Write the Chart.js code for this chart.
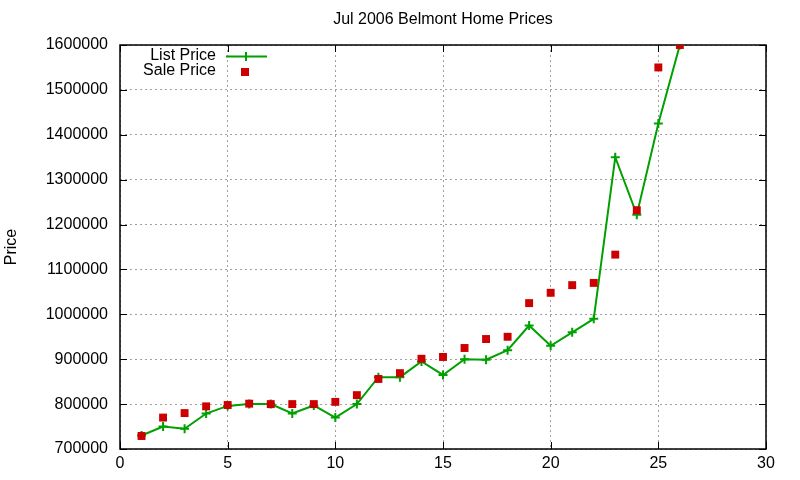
<!DOCTYPE html>
<html>
<head>
<meta charset="utf-8">
<script src="https://cdn.jsdelivr.net/npm/chart.js@4"></script>
<style>
html,body{margin:0;padding:0;background:#fff;}
#wrap{width:800px;height:480px;}
</style>
</head>
<body>
<div id="wrap"><canvas id="c" width="800" height="480"></canvas></div>
<script>
const houses = [1,2,3,4,5,6,7,8,9,10,11,12,13,14,15,16,17,18,19,20,21,22,23,24,25,26];
const listPrice = [730000,750000,745000,779000,796000,800000,800000,779000,797000,770000,800000,860000,860000,895000,865000,900000,899000,920000,975000,930000,960000,990000,1350000,1222000,1425000,1600000];
const salePrice = [729000,770000,780000,795000,798000,801000,800000,800000,800000,805000,820000,856000,869000,901000,905000,925000,945000,950000,1025000,1048000,1065000,1070000,1133000,1232000,1550000,1600000];
const titleText = 'Jul 2006 Belmont Home Prices';
const yTitle = 'Price';
const legendLabels = ['List Price','Sale Price'];

const GREEN = '#00a000';
const RED = '#cc0000';
const FONT = '"Liberation Sans", Arial, sans-serif';

const listPts = houses.map((h,i)=>({x:h,y:listPrice[i]}));
const salePts = houses.map((h,i)=>({x:h,y:salePrice[i]}));

const framePlugin = {
  id:'frame',
  beforeDatasetsDraw(chart){
    const ctx = chart.ctx, a = chart.chartArea;
    const xs = chart.scales.x, ys = chart.scales.y;
    ctx.save();
    ctx.strokeStyle = '#000';
    ctx.lineWidth = 1.5;
    ctx.setLineDash([]);
    ctx.strokeRect(a.left, a.top, a.right-a.left, a.bottom-a.top);
    ctx.lineWidth = 1;
    const tl = 7;
    ctx.beginPath();
    xs.ticks.forEach(t=>{
      const px = Math.round(xs.getPixelForValue(t.value))+0.5;
      ctx.moveTo(px,a.bottom); ctx.lineTo(px,a.bottom-tl);
      ctx.moveTo(px,a.top); ctx.lineTo(px,a.top+tl);
    });
    ys.ticks.forEach(t=>{
      const py = Math.round(ys.getPixelForValue(t.value))+0.5;
      ctx.moveTo(a.left,py); ctx.lineTo(a.left+tl,py);
      ctx.moveTo(a.right,py); ctx.lineTo(a.right-tl,py);
    });
    ctx.stroke();
    ctx.restore();
  },
  afterDraw(chart){
    const ctx = chart.ctx, a = chart.chartArea;
    ctx.save();
    ctx.fillStyle = '#000';
    ctx.font = '16px ' + FONT;
    ctx.textAlign = 'center';
    ctx.textBaseline = 'middle';
    ctx.fillText(titleText, (a.left+a.right)/2, 20);
    ctx.save();
    ctx.translate(12, (a.top+a.bottom)/2);
    ctx.rotate(-Math.PI/2);
    ctx.fillText(yTitle, 0, 0);
    ctx.restore();
    // legend
    ctx.textAlign = 'right';
    ctx.fillText(legendLabels[0], 216, 56);
    ctx.fillText(legendLabels[1], 216, 71);
    ctx.strokeStyle = GREEN;
    ctx.lineWidth = 2;
    ctx.beginPath();
    ctx.moveTo(226,56.5); ctx.lineTo(267,56.5);
    ctx.moveTo(246,52); ctx.lineTo(246,61);
    ctx.stroke();
    ctx.fillStyle = RED;
    ctx.fillRect(241,68,8,8);
    ctx.restore();
  }
};

new Chart(document.getElementById('c'), {
  type:'scatter',
  data:{
    datasets:[
      {
        label:legendLabels[1],
        data:salePts,
        showLine:false,
        pointStyle:'rect',
        pointRadius:5.6,
        pointHoverRadius:5.6,
        backgroundColor:RED,
        borderColor:RED,
        borderWidth:0,
        order:0
      },
      {
        label:legendLabels[0],
        data:listPts,
        showLine:true,
        borderColor:GREEN,
        backgroundColor:GREEN,
        borderWidth:2,
        pointStyle:'cross',
        pointRadius:4.5,
        pointHoverRadius:4.5,
        pointBorderWidth:2,
        pointBorderColor:GREEN,
        tension:0,
        order:1
      }
    ]
  },
  options:{
    responsive:false,
    animation:false,
    devicePixelRatio:1,
    events:[],
    layout:{padding:{left:0,right:34,top:45,bottom:0}},
    plugins:{legend:{display:false},title:{display:false},tooltip:{enabled:false}},
    scales:{
      x:{
        type:'linear',min:0,max:30,
        afterFit(s){ s.height = 31; },
        ticks:{stepSize:5,color:'#000',font:{family:FONT,size:16},padding:5,maxRotation:0},
        grid:{color:'#a0a0a0',lineWidth:1,drawTicks:false},
        border:{display:false,dash:[2,3]}
      },
      y:{
        type:'linear',min:700000,max:1600000,
        afterFit(s){ s.width = 120; },
        ticks:{stepSize:100000,color:'#000',font:{family:FONT,size:16},padding:12,callback:v=>String(v)},
        grid:{color:'#a0a0a0',lineWidth:1,drawTicks:false},
        border:{display:false,dash:[2,3]}
      }
    }
  },
  plugins:[framePlugin]
});
</script>
</body>
</html>
